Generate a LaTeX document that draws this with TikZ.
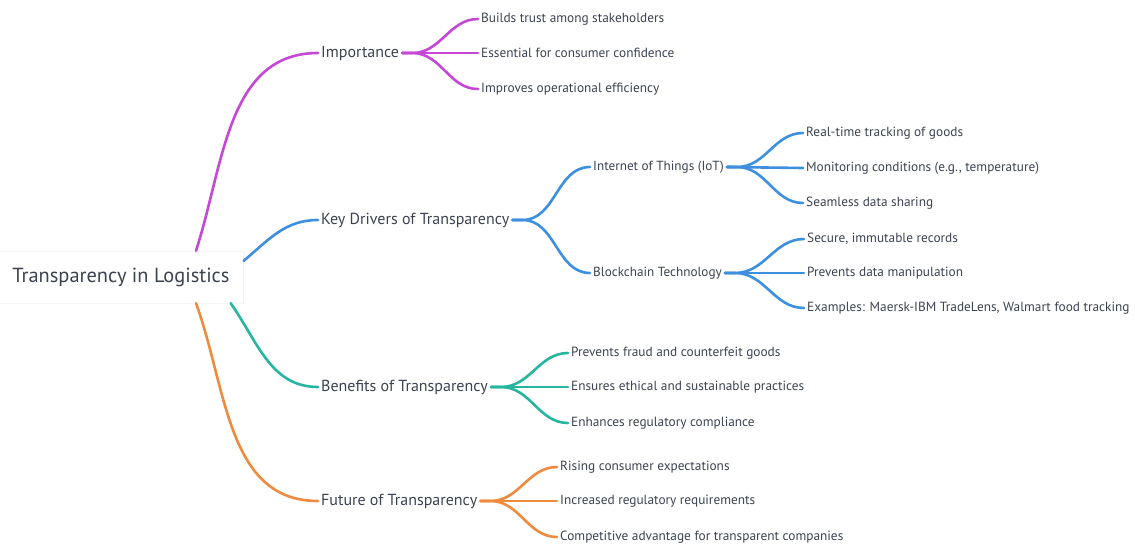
\documentclass[tikz,border=0pt]{standalone}
\usepackage{fontspec}
\setmainfont{PT Sans}
\usepackage{xcolor}
\usepackage{tikz}
\usetikzlibrary{positioning}

\definecolor{txt}{HTML}{3B4250}
\definecolor{impc}{HTML}{C447D6}
\definecolor{keyc}{HTML}{3D8FE0}
\definecolor{benc}{HTML}{26B5A1}
\definecolor{futc}{HTML}{EF8B3E}

\begin{document}
\begin{tikzpicture}[
        x=1pt, y=1pt,
        root/.style={draw=black!4, fill=white, text=txt, minimum width=245pt, minimum height=52pt, font=\fontsize{20.4}{23}\selectfont},
        topic/.style={anchor=west, inner sep=3pt, text=txt, font=\fontsize{16}{18}\selectfont},
        sub/.style={anchor=west, inner sep=3pt, text=txt, font=\fontsize{13.2}{15}\selectfont},
        leaf/.style={anchor=west, inner sep=3pt, text=txt, font=\fontsize{13.3}{15}\selectfont},
        branch/.style={draw=#1, line width=2.6pt, line cap=round}
    ]
    \useasboundingbox (0,0) rectangle (1135,-544);

    \node[root] (root) at (121,-277) {Transparency in Logistics};

    \node[topic] (imp) at (318,-53) {Importance};
    \node[topic] (key) at (318,-220) {Key Drivers of Transparency};
    \node[topic] (ben) at (318,-387) {Benefits of Transparency};
    \node[topic] (fut) at (318,-501) {Future of Transparency};

    \draw[branch=impc] ([xshift=75pt]root.north) to[out=72,in=180] (imp.west);
    \draw[branch=keyc] ([yshift=-10pt]root.north east) to[out=40,in=180] (key.west);
    \draw[branch=benc] ([xshift=-13pt]root.south east) to[out=-55,in=180] (ben.west);
    \draw[branch=futc] ([xshift=75pt]root.south) to[out=-70,in=180] (fut.west);

    % importance
    \node[leaf] (imp1) at (478,-19) {Builds trust among stakeholders};
    \node[leaf] (imp2) at (478,-53) {Essential for consumer confidence};
    \node[leaf] (imp3) at (478,-89) {Improves operational efficiency};
    \draw[branch=impc] (imp.east) -- ++(10,0) to[out=0,in=180] (imp1.west);
    \draw[branch=impc] (imp.east) -- (imp2.west);
    \draw[branch=impc] (imp.east) -- ++(10,0) to[out=0,in=180] (imp3.west);

    % key drivers
    \node[sub] (iot) at (590,-167) {Internet of Things (IoT)};
    \node[sub] (blk) at (590,-273) {Blockchain Technology};
    \draw[branch=keyc] (key.east) -- ++(10,0) to[out=0,in=180] (iot.west);
    \draw[branch=keyc] (key.east) -- ++(10,0) to[out=0,in=180] (blk.west);

    \node[leaf] (iot1) at (803,-133) {Real-time tracking of goods};
    \node[leaf] (iot2) at (803,-168) {Monitoring conditions (e.g., temperature)};
    \node[leaf] (iot3) at (803,-203) {Seamless data sharing};
    \draw[branch=keyc] (iot.east) -- ++(10,0) to[out=0,in=180] (iot1.west);
    \draw[branch=keyc] (iot.east) -- (iot2.west);
    \draw[branch=keyc] (iot.east) -- ++(10,0) to[out=0,in=180] (iot3.west);

    \node[leaf] (blk1) at (804,-239) {Secure, immutable records};
    \node[leaf] (blk2) at (804,-273) {Prevents data manipulation};
    \node[leaf] (blk3) at (804,-308) {Examples: Maersk-IBM TradeLens, Walmart food tracking};
    \draw[branch=keyc] (blk.east) -- ++(10,0) to[out=0,in=180] (blk1.west);
    \draw[branch=keyc] (blk.east) -- (blk2.west);
    \draw[branch=keyc] (blk.east) -- ++(10,0) to[out=0,in=180] (blk3.west);

    % benefits
    \node[leaf] (ben1) at (568,-353) {Prevents fraud and counterfeit goods};
    \node[leaf] (ben2) at (568,-387) {Ensures ethical and sustainable practices};
    \node[leaf] (ben3) at (568,-423) {Enhances regulatory compliance};
    \draw[branch=benc] (ben.east) -- ++(10,0) to[out=0,in=180] (ben1.west);
    \draw[branch=benc] (ben.east) -- (ben2.west);
    \draw[branch=benc] (ben.east) -- ++(10,0) to[out=0,in=180] (ben3.west);

    % future
    \node[leaf] (fut1) at (557,-467) {Rising consumer expectations};
    \node[leaf] (fut2) at (557,-501) {Increased regulatory requirements};
    \node[leaf] (fut3) at (557,-537) {Competitive advantage for transparent companies};
    \draw[branch=futc] (fut.east) -- ++(10,0) to[out=0,in=180] (fut1.west);
    \draw[branch=futc] (fut.east) -- (fut2.west);
    \draw[branch=futc] (fut.east) -- ++(10,0) to[out=0,in=180] (fut3.west);
\end{tikzpicture}
\end{document}
